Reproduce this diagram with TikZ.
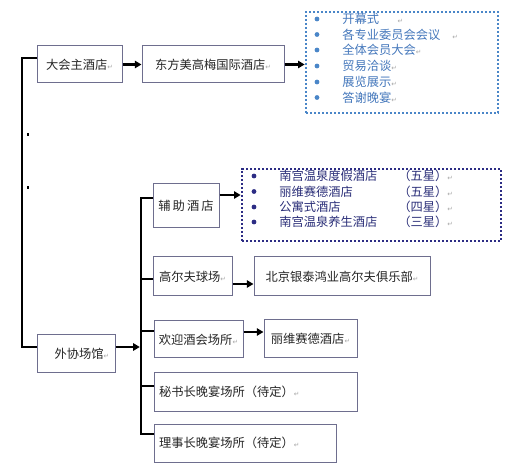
\documentclass[tikz,border=0pt]{standalone}
\usepackage{fontspec}
\setmainfont{Noto Sans CJK SC}
\newfontfamily\dvfont{DejaVu Sans}
\usetikzlibrary{arrows.meta,calc}
\definecolor{boxc}{HTML}{6E6E8E}
\definecolor{lblue}{HTML}{4A86C8}
\definecolor{ltext}{HTML}{4477BB}
\definecolor{navy}{HTML}{2C2C84}
\definecolor{ntext}{HTML}{2A2E78}
\newcommand\retmark{{\dvfont\fontsize{5}{6}\selectfont\textcolor{gray!70}{↵}}}
\begin{document}
\begin{tikzpicture}[x=0.75pt,y=-0.75pt,
  sz/.style 2 args={minimum width=#1*0.75pt, minimum height=#2*0.75pt},
  box/.style={draw=boxc, line width=0.75pt, fill=white, inner sep=0pt, text=black!85,
    font=\fontsize{9.2}{11}\selectfont},
  dotblue/.style={draw=lblue, line width=2pt, dash pattern=on 1.6pt off 1.4pt, inner sep=0pt},
  dotnavy/.style={draw=navy, line width=2pt, dash pattern=on 1.6pt off 1.4pt, inner sep=0pt},
  litem/.style={anchor=west, inner sep=0pt, text=ltext, font=\fontsize{9.2}{11}\selectfont},
  nitem/.style={anchor=west, inner sep=0pt, text=ntext, font=\fontsize{9.2}{11}\selectfont},
  trunk/.style={line width=1.9pt, black},
  arr/.style={line width=1.9pt, black, -{Triangle[length=5pt,width=5.5pt]}},
]
\useasboundingbox (0,0) rectangle (517,473);

% top branch
\node[box,sz={85}{37}] (A) at (79.5,64.5) {大会主酒店\retmark};
\node[box,sz={142}{37}] (B) at (213,64.5) {东方美高梅国际酒店\retmark};
\node[dotblue,sz={192}{101}] (C) at (402,62.5) {};
\foreach \y in {19,34.5,50,66,82,97.5} \fill[lblue] (317,\y) circle (1.8pt);
\node[litem] (c1) at (342,19) {开幕式\hspace{14pt}\retmark};
\node[litem] (c2) at (342,34.5) {各专业委员会会议\hspace{9pt}\retmark};
\node[litem] (c3) at (342,50) {全体会员大会\retmark};
\node[litem] (c4) at (342,66) {贸易洽谈\retmark};
\node[litem] (c5) at (342,82) {展览展示\retmark};
\node[litem] (c6) at (342,97.5) {答谢晚宴\retmark};

\draw[arr] (A.east) -- (B.west);
\draw[arr] (B.east) -- (C.west |- B.east);

% lower branch
\node[box,sz={78}{38}] (D) at (76,354) {\hspace{9pt}外协场馆\retmark};
\node[box,sz={66}{44}] (E) at (186,206) {辅\,助\,酒\,店};
\node[dotnavy,sz={259}{72}] (F) at (371.5,205) {};
\foreach \y in {176,191.5,207,222} \fill[navy] (254,\y) circle (1.8pt);
\node[nitem] (f1) at (279,176) {南宫温泉度假酒店};
\node[nitem] (f2) at (279,191.5) {丽维赛德酒店};
\node[nitem] (f3) at (279,207) {公寓式酒店};
\node[nitem] (f4) at (279,222) {南宫温泉养生酒店};
\node[nitem] (s1) at (398,176) {（五星）\retmark};
\node[nitem] (s2) at (398,191.5) {（五星）\retmark};
\node[nitem] (s3) at (398,207) {（四星）\retmark};
\node[nitem] (s4) at (398,222) {（三星）\retmark};

\node[box,sz={79}{39}] (G) at (192.5,276.5) {高尔夫球场\retmark};
\node[box,sz={176}{39}] (H) at (342,276.5) {北京银泰鸿业高尔夫俱乐部\retmark};
\node[box,sz={89}{37}] (I) at (198.5,339.5) {欢迎酒会场所\retmark};
\node[box,sz={93}{38}] (J) at (310.5,339) {丽维赛德酒店\retmark};
\node[box,sz={203}{38}, text width=193*0.75pt, align=left] (K) at (255.5,392) {秘书长晚宴场所（待定）\retmark};
\node[box,sz={182}{38}, text width=172*0.75pt, align=left] (L) at (245,443) {理事长晚宴场所（待定）\retmark};

% left trunk
\coordinate (t1) at (22,347);
\draw[trunk] ($(A.west)+(0,-6.5)$) -| (t1) -- ($(D.west)+(0,-7)$);
\fill (26.5,133.5) rectangle (29,136);
\fill (26.5,186.5) rectangle (29,189);

% second trunk
\coordinate (t2) at (141,434);
\draw[trunk] ($(E.west)+(0,-8)$) -| (t2) -- ($(L.west)+(0,-9)$);
\coordinate (gs) at ($(G.west)+(0,2.5)$);
\draw[trunk] (gs) -- (t2 |- gs);
\coordinate (is) at ($(I.west)+(0,-8.5)$);
\draw[trunk] (is) -- (t2 |- is);
\coordinate (ks) at ($(K.west)+(0,-6)$);
\draw[trunk] (ks) -- (t2 |- ks);
\coordinate (ds) at ($(D.east)+(0,-7)$);
\draw[arr] (ds) -- ([xshift=-0.9pt]t2 |- ds);

% arrows
\draw[arr] ($(E.east)+(0,-11)$) -- ($(F.west)+(0,-10)$);
\draw[arr] ($(G.east)+(0,7.5)$) -- ($(H.west)+(0,7.5)$);
\draw[arr] ($(I.east)+(0,-7.5)$) -- ($(J.west)+(0,-7)$);
\end{tikzpicture}
\end{document}
